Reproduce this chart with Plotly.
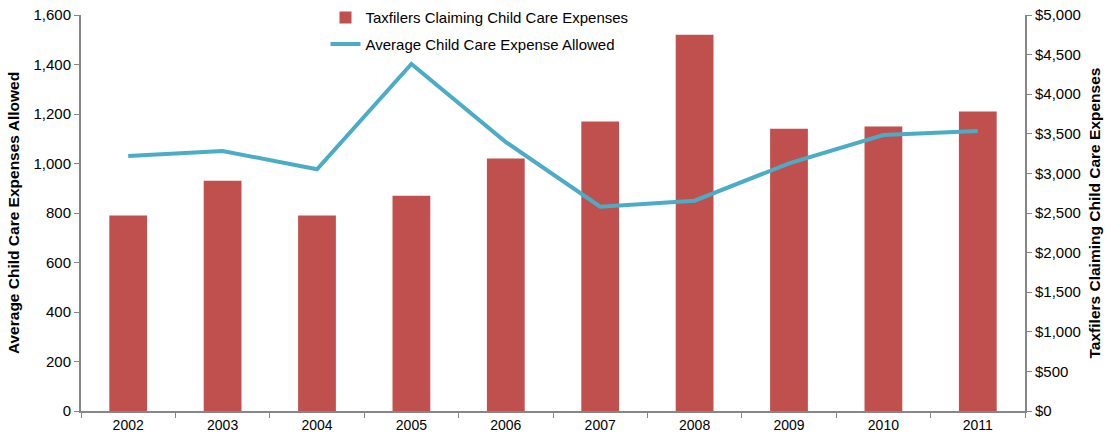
import plotly.graph_objects as go

years = ["2002", "2003", "2004", "2005", "2006", "2007", "2008", "2009", "2010", "2011"]
taxfilers = [790, 930, 790, 870, 1020, 1170, 1520, 1140, 1150, 1210]
avg_expense = [3220, 3283, 3052, 4381, 3396, 2580, 2655, 3127, 3485, 3535]

FONT = "Liberation Sans, Arial, sans-serif"
AXIS_GREY = "#868686"

fig = go.Figure()
fig.add_trace(go.Bar(
    x=years, y=taxfilers,
    name="Taxfilers Claiming Child Care Expenses",
    marker=dict(color="#C0504D", line=dict(width=0)),
    legendgroup="a",
))
fig.add_trace(go.Scatter(
    x=years, y=avg_expense, yaxis="y2",
    name="Average Child Care Expense Allowed",
    mode="lines",
    line=dict(color="#4BACC6", width=4),
    legendgroup="b",
))

fig.update_layout(
    width=1107, height=436,
    margin=dict(l=81, r=82, t=15, b=25, autoexpand=False),
    paper_bgcolor="white", plot_bgcolor="white",
    font=dict(family=FONT, size=15, color="#000000"),
    bargap=0.6,
    showlegend=True,
    legend=dict(
        x=0.259, y=1.035, xanchor="left", yanchor="top",
        bgcolor="rgba(0,0,0,0)",
        font=dict(size=15),
        traceorder="grouped",
        tracegroupgap=4,
    ),
    xaxis=dict(
        type="category", automargin=False,
        showline=True, linecolor=AXIS_GREY, linewidth=2,
        ticks="outside", tickson="boundaries", ticklen=5,
        tickcolor=AXIS_GREY, showgrid=False,
        tickfont=dict(size=14),
    ),
    yaxis=dict(
        range=[0, 1600], dtick=200, tickformat=",", automargin=False,
        showline=True, linecolor=AXIS_GREY, linewidth=2,
        ticks="outside", ticklen=5, tickcolor=AXIS_GREY,
        showgrid=False, zeroline=False,
        tickfont=dict(size=15),
        title=dict(text="<b>Average Child Care Expenses Allowed</b>",
                   font=dict(size=15.5), standoff=10),
    ),
    yaxis2=dict(
        overlaying="y", side="right", automargin=False,
        range=[0, 5000], dtick=500, tickformat=",", tickprefix="$",
        showline=True, linecolor=AXIS_GREY, linewidth=2,
        ticks="outside", ticklen=5, tickcolor=AXIS_GREY,
        showgrid=False, zeroline=False,
        tickfont=dict(size=15),
        title=dict(text="<b>Taxfilers Claiming Child Care Expenses</b>",
                   font=dict(size=15.5), standoff=9),
    ),
)

fig.write_html("out.html")
